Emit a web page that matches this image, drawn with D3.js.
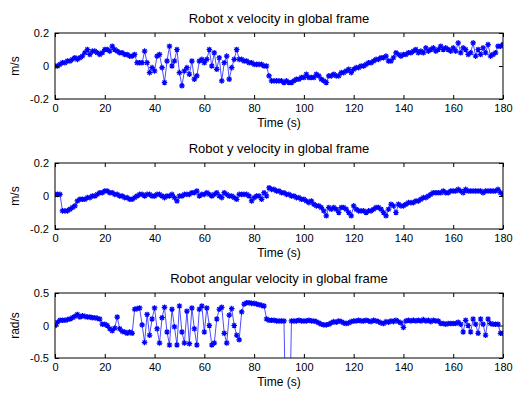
<!DOCTYPE html>
<html>
<head>
<meta charset="utf-8">
<script src="https://cdn.jsdelivr.net/npm/d3@7"></script>
<style>
  html, body { margin: 0; padding: 0; background: #fff; }
  svg { display: block; }
  text { font-family: "Liberation Sans", Arial, Helvetica, sans-serif; fill: #000; }
</style>
</head>
<body>
<svg id="fig" width="515" height="401"></svg>
<script>
// Time stamps (s), one sample per second
const time = d3.range(0, 181);

// Robot x velocity in global frame (m/s)
const velX = [
  0.00, 0.00, 0.01, 0.02, 0.02, 0.03, 0.03, 0.04, 0.05, 0.04,
  0.05, 0.06, 0.08, 0.10, 0.07, 0.09, 0.09, 0.08, 0.07, 0.08,
  0.10, 0.10, 0.09, 0.12, 0.10, 0.09, 0.08, 0.08, 0.07, 0.07,
  0.06, 0.06, 0.07, 0.02, 0.02, 0.02, 0.09, 0.02, -0.04, -0.01,
  -0.03, 0.06, 0.07, -0.01, -0.10, 0.03, 0.12, 0.00, 0.03, 0.10,
  -0.04, -0.12, -0.03, -0.01, -0.05, 0.03, -0.08, -0.06, 0.03, 0.04,
  0.02, 0.04, 0.10, 0.00, 0.08, -0.02, 0.05, -0.09, 0.02, 0.06,
  -0.08, -0.01, 0.04, 0.10, 0.04, 0.04, 0.03, 0.03, 0.02, 0.02,
  0.01, 0.01, 0.01, 0.01, 0.00, 0.00, -0.06, -0.09, -0.09, -0.09,
  -0.09, -0.09, -0.10, -0.09, -0.10, -0.10, -0.09, -0.08, -0.08, -0.07,
  -0.07, -0.05, -0.07, -0.07, -0.07, -0.05, -0.06, -0.08, -0.09, -0.10,
  -0.06, -0.06, -0.05, -0.06, -0.06, -0.04, -0.04, -0.03, -0.02, -0.04,
  -0.02, -0.01, -0.01, 0.00, 0.00, 0.01, 0.02, 0.02, 0.03, 0.04,
  0.04, 0.05, 0.05, 0.06, 0.03, 0.03, 0.05, 0.08, 0.07, 0.06,
  0.07, 0.07, 0.08, 0.08, 0.09, 0.10, 0.08, 0.09, 0.08, 0.11,
  0.09, 0.10, 0.11, 0.09, 0.10, 0.12, 0.10, 0.11, 0.10, 0.09,
  0.11, 0.09, 0.14, 0.08, 0.11, 0.10, 0.07, 0.08, 0.14, 0.06,
  0.10, 0.07, 0.11, 0.08, 0.13, 0.06, 0.07, 0.08, 0.12, 0.12,
  0.13
];

// Robot y velocity in global frame (m/s)
const velY = [
  0.01, 0.01, 0.01, -0.09, -0.09, -0.09, -0.08, -0.07, -0.06, -0.03,
  -0.02, -0.02, -0.02, -0.01, -0.01, 0.00, 0.00, 0.01, 0.02, 0.02,
  0.03, 0.03, 0.02, 0.02, 0.01, 0.01, 0.00, 0.00, -0.01, -0.01,
  -0.02, -0.02, -0.01, 0.00, 0.01, 0.01, 0.00, 0.01, 0.01, 0.00,
  0.00, 0.01, 0.01, 0.00, -0.01, 0.00, 0.00, 0.01, -0.01, -0.03,
  0.00, 0.00, 0.01, 0.01, 0.01, 0.02, 0.02, 0.03, 0.00, 0.01,
  0.01, 0.02, 0.01, 0.00, 0.01, 0.02, 0.00, -0.01, 0.02, 0.01,
  0.00, 0.00, -0.01, -0.02, 0.01, 0.01, 0.01, 0.01, 0.00, -0.03,
  -0.01, 0.00, 0.00, -0.02, 0.02, 0.00, 0.05, 0.04, 0.04, 0.03,
  0.03, 0.02, 0.02, 0.01, 0.01, 0.00, 0.00, -0.01, -0.01, -0.02,
  -0.02, -0.03, -0.04, -0.03, -0.05, -0.06, -0.06, -0.07, -0.09, -0.12,
  -0.07, -0.08, -0.07, -0.08, -0.10, -0.07, -0.07, -0.08, -0.10, -0.12,
  -0.06, -0.08, -0.09, -0.09, -0.09, -0.10, -0.09, -0.09, -0.08, -0.07,
  -0.07, -0.08, -0.10, -0.12, -0.08, -0.05, -0.06, -0.10, -0.05, -0.06,
  -0.06, -0.05, -0.04, -0.04, -0.04, -0.03, -0.03, -0.02, -0.01, -0.01,
  0.00, 0.01, 0.02, 0.02, 0.02, 0.02, 0.03, 0.02, 0.02, 0.03,
  0.03, 0.03, 0.04, 0.03, 0.02, 0.04, 0.03, 0.03, 0.03, 0.03,
  0.03, 0.03, 0.02, 0.03, 0.03, 0.03, 0.03, 0.03, 0.04, 0.02,
  0.01
];

// Robot angular velocity in global frame (rad/s)
const velW = [
  0.00, 0.05, 0.08, 0.08, 0.08, 0.09, 0.10, 0.12, 0.14, 0.17,
  0.13, 0.15, 0.14, 0.13, 0.13, 0.12, 0.12, 0.11, 0.10, 0.02,
  0.02, 0.00, -0.05, -0.08, -0.04, 0.13, -0.05, -0.09, -0.10, -0.12,
  -0.10, -0.12, 0.25, 0.26, 0.27, 0.01, -0.26, 0.17, -0.15, 0.10,
  0.27, -0.05, -0.27, 0.12, 0.28, -0.10, -0.30, 0.25, -0.02, -0.30,
  0.30, -0.10, -0.27, 0.22, -0.28, 0.27, -0.05, -0.30, 0.25, 0.30,
  -0.10, 0.27, 0.00, -0.30, -0.27, 0.10, 0.25, 0.28, -0.12, -0.27,
  0.16, 0.26, 0.00, -0.15, -0.22, 0.21, 0.33, 0.35, 0.35, 0.34,
  0.34, 0.33, 0.32, 0.31, 0.30, 0.10, 0.08, 0.08, 0.08, 0.07,
  0.07, 0.07, 0.07, -2.00, -2.00, 0.07, 0.07, 0.07, 0.08, 0.07,
  0.07, 0.07, 0.08, 0.07, 0.07, 0.06, 0.04, 0.02, 0.01, 0.01,
  0.02, 0.04, 0.06, 0.05, 0.07, 0.06, 0.04, 0.03, 0.04, 0.06,
  0.07, 0.07, 0.08, 0.07, 0.07, 0.08, 0.07, 0.06, 0.08, 0.07,
  0.06, 0.04, 0.03, 0.06, 0.05, 0.07, 0.06, 0.08, 0.06, 0.04,
  -0.03, 0.07, 0.08, 0.07, 0.08, 0.07, 0.08, 0.07, 0.09, 0.07,
  0.08, 0.06, 0.08, 0.07, 0.07, 0.03, 0.03, 0.02, 0.03, 0.03,
  0.03, 0.03, 0.05, 0.02, -0.10, 0.08, 0.00, -0.10, 0.10, 0.02,
  -0.12, 0.10, 0.02, -0.15, 0.10, 0.03, 0.02, 0.02, 0.02, -0.12,
  -0.12
];

// Axis ticks and labels
const timeTicks = [0, 20, 40, 60, 80, 100, 120, 140, 160, 180];
const velTicks = [-0.2, 0, 0.2];
const angTicks = [-0.5, 0, 0.5];
const titles = [
  "Robot x velocity in global frame",
  "Robot y velocity in global frame",
  "Robot angular velocity in global frame"
];
const yLabels = ["m/s", "m/s", "rad/s"];
const xLabel = "Time (s)";

const panels = [
  { values: velX, domain: [-0.2, 0.2], ticks: velTicks, top: 33, bottom: 99 },
  { values: velY, domain: [-0.2, 0.2], ticks: velTicks, top: 163, bottom: 229 },
  { values: velW, domain: [-0.5, 0.5], ticks: angTicks, top: 293, bottom: 358 }
];

const left = 55, right = 503;
const blue = "#0000ff";
const svg = d3.select("#fig");
const fmt = d => String(d);

// Asterisk marker: plus and cross overlaid
const star = r => {
  const d = r * 0.72;
  return `M${-r},0H${r}M0,${-r}V${r}M${-d},${-d}L${d},${d}M${-d},${d}L${d},${-d}`;
};

panels.forEach((p, i) => {
  const x = d3.scaleLinear().domain([0, 180]).range([left, right]);
  const y = d3.scaleLinear().domain(p.domain).range([p.bottom, p.top]);
  const g = svg.append("g");

  const clipId = "clip" + i;
  svg.append("clipPath").attr("id", clipId)
    .append("rect")
    .attr("x", left).attr("y", p.top)
    .attr("width", right - left).attr("height", p.bottom - p.top);

  const pts = time.map((t, k) => [t, p.values[k]]);

  const plot = g.append("g").attr("clip-path", `url(#${clipId})`);
  plot.append("path")
    .datum(pts)
    .attr("fill", "none")
    .attr("stroke", blue)
    .attr("stroke-width", 0.7)
    .attr("d", d3.line().x(d => x(d[0])).y(d => y(d[1])));
  plot.selectAll("path.mk")
    .data(pts)
    .join("path")
    .attr("class", "mk")
    .attr("transform", d => `translate(${x(d[0])},${y(d[1])})`)
    .attr("d", star(2.8))
    .attr("fill", "none")
    .attr("stroke", blue)
    .attr("stroke-width", 1.2);

  // Axes with inward ticks on all four sides
  const styleAxis = sel => {
    sel.select(".domain").remove();
    sel.selectAll(".tick line").attr("stroke", "#000");
    sel.selectAll(".tick text")
      .style("font-family", '"Liberation Sans", Arial, sans-serif')
      .style("font-size", "11px")
      .attr("fill", "#000");
  };
  g.append("g").attr("transform", `translate(0,${p.bottom})`)
    .call(d3.axisBottom(x).tickValues(timeTicks).tickSize(-4).tickPadding(5).tickFormat(fmt))
    .call(styleAxis);
  g.append("g").attr("transform", `translate(0,${p.top})`)
    .call(d3.axisTop(x).tickValues(timeTicks).tickSize(-4).tickFormat(""))
    .call(styleAxis);
  g.append("g").attr("transform", `translate(${left},0)`)
    .call(d3.axisLeft(y).tickValues(p.ticks).tickSize(-4).tickPadding(6).tickFormat(fmt))
    .call(styleAxis);
  g.append("g").attr("transform", `translate(${right},0)`)
    .call(d3.axisRight(y).tickValues(p.ticks).tickSize(-4).tickFormat(""))
    .call(styleAxis);

  g.append("rect")
    .attr("x", left).attr("y", p.top)
    .attr("width", right - left).attr("height", p.bottom - p.top)
    .attr("fill", "none").attr("stroke", "#000").attr("stroke-width", 1);

  const cx = (left + right) / 2;
  g.append("text")
    .attr("x", cx).attr("y", p.top - 10)
    .attr("text-anchor", "middle")
    .style("font-size", "13px")
    .text(titles[i]);
  g.append("text")
    .attr("x", cx).attr("y", p.bottom + 28)
    .attr("text-anchor", "middle")
    .style("font-size", "12px")
    .text(xLabel);
  g.append("text")
    .attr("transform", `translate(19,${(p.top + p.bottom) / 2}) rotate(-90)`)
    .attr("text-anchor", "middle")
    .style("font-size", "12px")
    .text(yLabels[i]);
});
</script>
</body>
</html>
